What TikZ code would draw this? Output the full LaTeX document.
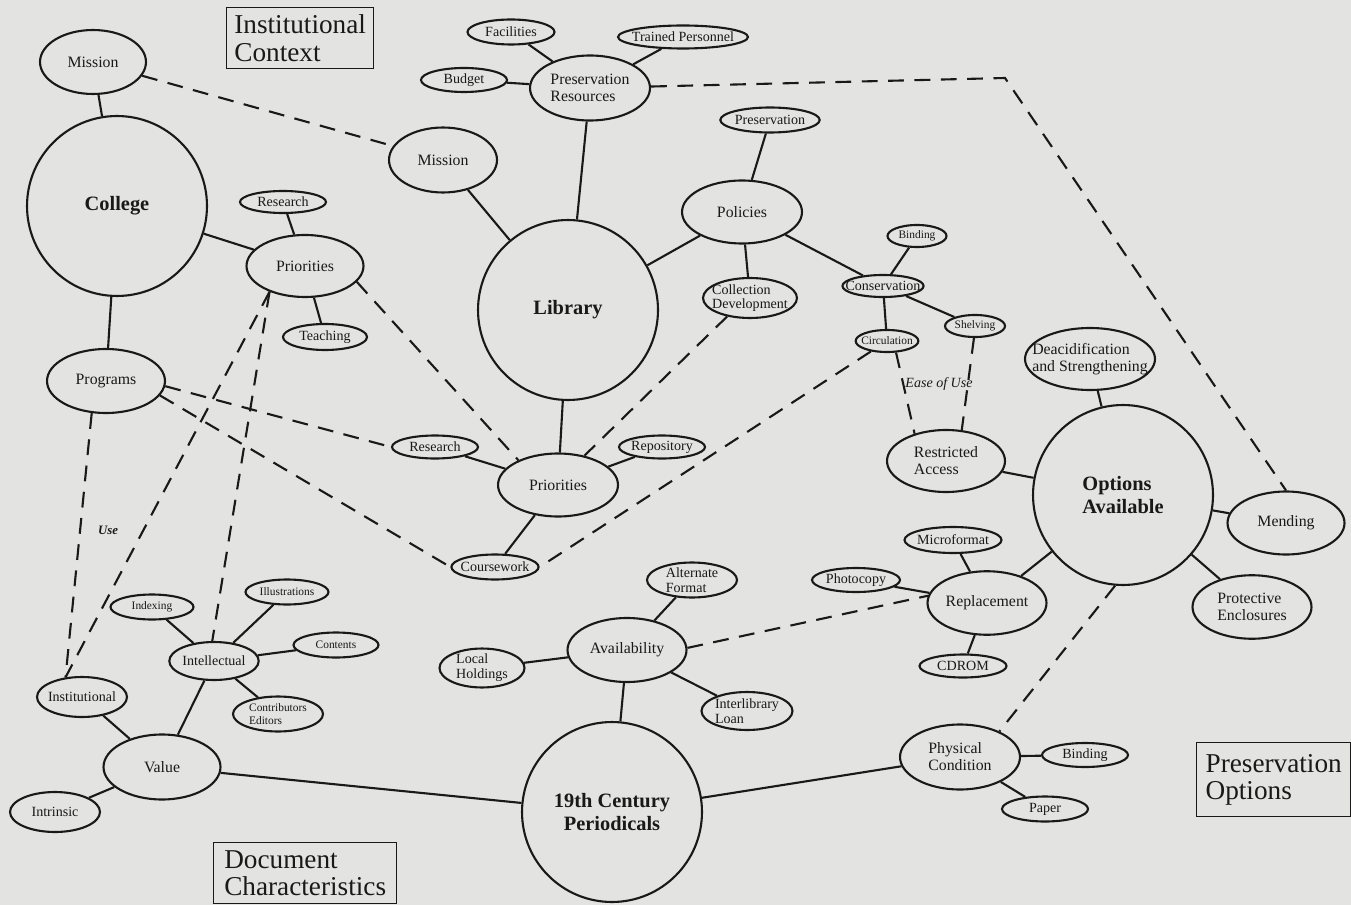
\documentclass[tikz,border=0pt]{standalone}
\usepackage{fontspec}
\setmainfont{Liberation Serif}
\usetikzlibrary{shapes.geometric}
\definecolor{paper}{RGB}{227,227,225}
\definecolor{ink}{RGB}{25,25,25}
\tikzstyle{hub} = [draw=ink, circle, line width=1.2pt, minimum size=3.6cm,
    inner sep=0, text=ink, align=center,
    font=\fontsize{11.6}{12.6}\selectfont\bfseries]
\tikzstyle{topic} = [draw=ink, ellipse, line width=1.2pt, inner sep=0,
    minimum width=2.38cm, minimum height=1.27cm, text=ink, align=left,
    font=\fontsize{9}{9.6}\selectfont]
\tikzstyle{minor} = [draw=ink, ellipse, line width=1.2pt, inner sep=0,
    minimum width=1.72cm, minimum height=0.48cm, text=ink, align=left,
    font=\fontsize{8}{8.4}\selectfont]
\tikzstyle{detail} = [draw=ink, ellipse, line width=1.2pt, inner sep=0,
    minimum width=1.66cm, minimum height=0.5cm, text=ink, align=left,
    font=\fontsize{6.5}{7}\selectfont]
\tikzstyle{area} = [draw=ink, rectangle, line width=0.8pt, anchor=north west,
    inner sep=0, text=ink, align=left, font=\fontsize{15.5}{15.5}\selectfont]
\tikzstyle{link} = [draw=ink, line width=1.2pt]
\tikzstyle{weak} = [draw=ink, line width=1.2pt, dash pattern=on 9pt off 6pt]

\begin{document}
\begin{tikzpicture}[x=0.02cm, y=-0.02cm]

    \fill[paper] (0,0) rectangle (1351,905);
    \useasboundingbox (0,0) rectangle (1351,905);

    % area boxes
    \node[area, minimum width=2.94cm, minimum height=1.22cm] (ctxbox) at (226,7) {Institutional\\Context};
    \node[area, minimum width=3.66cm, minimum height=1.22cm] (docbox) at (213,842) {Document\\Characteristics};
    \node[area, minimum width=3.08cm, minimum height=1.48cm] (optbox) at (1196,742) {Preservation\\Options};

%%% COLLEGE
\node[hub] (college) at (117,206) {College};
\node[topic, minimum width=2.12cm, minimum height=1.28cm] (cmission) at (93,62) {Mission};
\node[topic, minimum width=2.36cm, minimum height=1.28cm] (programs) at (106,381) {Programs};
\node[topic, minimum width=2.34cm, minimum height=1.24cm] (cprio) at (305,266) {Priorities};
\node[minor, minimum height=0.44cm] (cresearch) at (283,202) {Research};
\node[minor, minimum width=1.68cm, minimum height=0.52cm] (teaching) at (325,337) {Teaching};

\draw[link] (cmission) -- (college);
\draw[link] (college) -- (programs);
\draw[link] (college) -- (cprio);
\draw[link] (cprio) -- (cresearch);
\draw[link] (cprio) -- (teaching);

%%% LIBRARY
\node[hub] (library) at (568,310) {Library};
\node[topic, minimum width=2.16cm, minimum height=1.3cm] (lmission) at (443,160) {Mission};
\node[topic, minimum width=2.4cm, minimum height=1.3cm] (presres) at (590,88) {Preservation\\Resources};
\node[minor, minimum width=1.74cm, minimum height=0.5cm] (facilities) at (511,32) {Facilities};
\node[minor, minimum width=2.6cm, minimum height=0.46cm, inner xsep=-3pt] (trained) at (683,37) {Trained Personnel};
\node[minor] (budget) at (464,80) {Budget};
\node[topic, minimum width=2.4cm, minimum height=1.26cm] (policies) at (742,212) {Policies};
\node[minor, minimum width=1.72cm, minimum height=0.5cm] (prespol) at (770,120) {Preservation};
\node[minor, minimum width=1.88cm, minimum height=0.8cm, inner xsep=-3pt] (colldev) at (750,298) {Collection\\Development};
\node[minor, minimum width=1.62cm, minimum height=0.44cm, inner xsep=-5pt] (conserv) at (883,286) {Conservation};
\node[detail, minimum width=1.18cm, minimum height=0.44cm] (binding) at (917,236) {Binding};
\node[detail, minimum width=1.22cm, minimum height=0.44cm, inner xsep=-2pt] (circ) at (887,341) {Circulation};
\node[detail, minimum width=1.2cm, minimum height=0.44cm] (shelving) at (975,326) {Shelving};
\node[topic, minimum width=2.4cm, minimum height=1.26cm] (lprio) at (558,485) {Priorities};
\node[minor, minimum height=0.46cm] (lresearch) at (435,447) {Research};
\node[minor, minimum height=0.46cm, inner xsep=-1pt] (repository) at (662,447) {Repository};
\node[minor, minimum width=1.72cm, minimum height=0.5cm, inner xsep=-2pt] (coursework) at (495,567) {Coursework};

\draw[link] (lmission) -- (library);
\draw[link] (presres) -- (library);
\draw[link] (presres) -- (facilities);
\draw[link] (presres) -- (trained);
\draw[link] (presres) -- (budget);
\draw[link] (library) -- (policies);
\draw[link] (policies) -- (prespol);
\draw[link] (policies) -- (colldev);
\draw[link] (policies) -- (conserv);
\draw[link] (conserv) -- (binding);
\draw[link] (conserv) -- (circ);
\draw[link] (conserv) -- (shelving);
\draw[link] (library) -- (lprio);
\draw[link] (lprio) -- (lresearch);
\draw[link] (lprio) -- (repository);
\draw[link] (lprio) -- (coursework);

%%% PERIODICALS
\node[hub] (period) at (612,812) {19th Century\\Periodicals};
\node[topic, minimum width=2.38cm, minimum height=1.28cm] (avail) at (627,650) {Availability};
\node[minor, minimum width=1.8cm, minimum height=0.7cm] (altformat) at (692,580) {Alternate\\Format};
\node[minor, minimum width=1.7cm, minimum height=0.66cm] (localhold) at (482,668) {Local\\Holdings};
\node[minor, minimum width=1.82cm, minimum height=0.76cm] (ill) at (747,711) {Interlibrary\\Loan};
\node[topic, minimum width=2.34cm, minimum height=1.3cm] (value) at (162,767) {Value};
\node[minor, minimum width=1.8cm, minimum height=0.8cm, inner xsep=-2pt] (institutional) at (82,697) {Institutional};
\node[minor, minimum width=1.8cm, minimum height=0.8cm] (intrinsic) at (55,812) {Intrinsic};
\node[minor, minimum width=1.76cm, minimum height=0.76cm] (intellectual) at (214,661) {Intellectual};
\node[detail] (indexing) at (152,607) {Indexing};
\node[detail] (illustr) at (287,592) {Illustrations};
\node[detail, minimum width=1.7cm] (contents) at (336,645) {Contents};
\node[detail, minimum width=1.8cm, minimum height=0.7cm] (contrib) at (278,714) {Contributors\\Editors};
\node[topic, minimum width=2.4cm, minimum height=1.3cm] (phys) at (960,757) {Physical\\Condition};
\node[minor] (binding2) at (1085,755) {Binding};
\node[minor, minimum height=0.5cm] (paper) at (1045,809) {Paper};

\draw[link] (period) -- (avail);
\draw[link] (avail) -- (altformat);
\draw[link] (avail) -- (localhold);
\draw[link] (avail) -- (ill);
\draw[link] (period) -- (value);
\draw[link] (value) -- (institutional);
\draw[link] (value) -- (intrinsic);
\draw[link] (value) -- (intellectual);
\draw[link] (intellectual) -- (indexing);
\draw[link] (intellectual) -- (illustr);
\draw[link] (intellectual) -- (contents);
\draw[link] (intellectual) -- (contrib);
\draw[link] (period) -- (phys);
\draw[link] (phys) -- (binding2);
\draw[link] (phys) -- (paper);

%%% OPTIONS
\node[hub, align=left] (options) at (1123,495) {Options\\Available};
\node[topic, minimum width=2.36cm, minimum height=1.24cm] (restr) at (946,461) {Restricted\\Access};
\node[topic, minimum width=2.6cm, minimum height=1.24cm, inner xsep=-7pt] (deacid) at (1090,359) {Deacidification\\and Strengthening};
\node[topic, minimum width=2.34cm, minimum height=1.26cm] (mending) at (1286,523) {Mending};
\node[topic] (protect) at (1252,607) {Protective\\Enclosures};
\node[topic] (repl) at (987,603) {Replacement};
\node[minor, minimum width=1.94cm, minimum height=0.52cm, inner xsep=-1pt] (microformat) at (953,540) {Microformat};
\node[minor, minimum width=1.76cm] (photocopy) at (856,580) {Photocopy};
\node[minor, minimum width=1.74cm, minimum height=0.46cm] (cdrom) at (963,666) {CDROM};

\draw[link] (options) -- (restr);
\draw[link] (options) -- (deacid);
\draw[link] (options) -- (mending);
\draw[link] (options) -- (protect);
\draw[link] (options) -- (repl);
\draw[link] (repl) -- (microformat);
\draw[link] (repl) -- (photocopy);
\draw[link] (repl) -- (cdrom);

%%% DASHED LINKS
\coordinate (bend) at (1005,78);
\draw[weak] (cmission) -- (lmission);
\draw[weak] (presres) -- (bend) -- (mending.north);
\draw[weak] (cprio.-17) -- (lprio.148);
\draw[weak] (programs.-5) -- (lresearch.west);
\draw[weak] (programs.-15) -- (coursework.west);
\draw[weak] (cprio.216) -- (institutional.130);
\draw[weak] (cprio.216) -- (intellectual.95);
\draw[weak] (programs.246) -- (institutional.130);
\draw[weak] (colldev.219) -- (lprio.48);
\draw[weak] (circ.213) -- (coursework.east);
\draw[weak] (circ.-52) -- (restr.139);
\draw[weak] (shelving.-95) -- (restr.63);
\draw[weak] (avail.2) -- (repl.173);
\draw[weak] (options.265) -- (phys.33);

\node[text=ink, font=\fontsize{7.3}{8}\selectfont\bfseries\itshape] (uselbl) at (108,530) {Use};
\node[text=ink, font=\fontsize{8}{9}\selectfont\itshape] (easelbl) at (939,384) {Ease of Use};

\end{tikzpicture}
\end{document}
